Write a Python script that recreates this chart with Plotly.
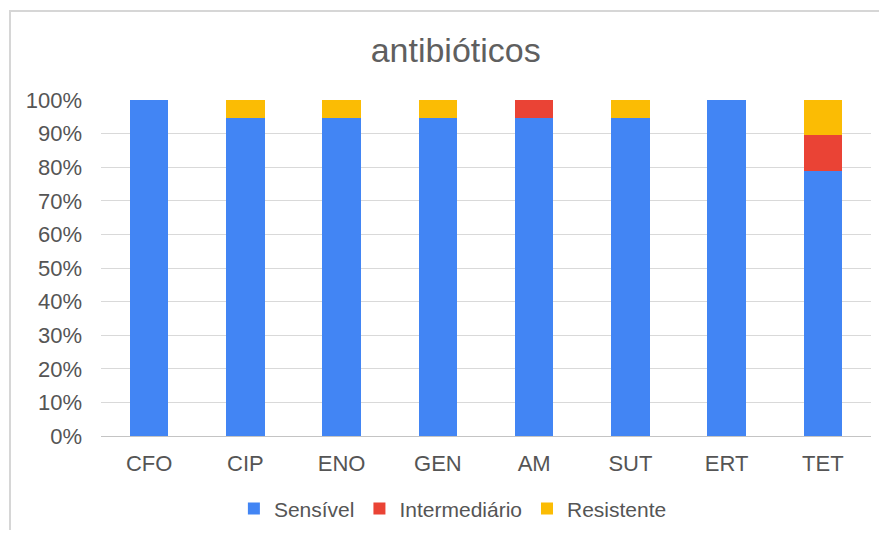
import plotly.graph_objects as go

categories = ["CFO", "CIP", "ENO", "GEN", "AM", "SUT", "ERT", "TET"]
sensivel = [100.0, 94.7, 94.7, 94.7, 94.7, 94.7, 100.0, 78.9]
intermediario = [0.0, 0.0, 0.0, 0.0, 5.3, 0.0, 0.0, 10.55]
resistente = [0.0, 5.3, 5.3, 5.3, 0.0, 5.3, 0.0, 10.55]
y_ticks = [0, 10, 20, 30, 40, 50, 60, 70, 80, 90, 100]
y_tick_labels = [f"{v}%" for v in y_ticks]

font = "Liberation Sans, Arial, sans-serif"
txt = "#555555"
fig = go.Figure()
for name, vals, col in [("Sensível", sensivel, "#4285F4"),
                        ("Intermediário", intermediario, "#EA4335"),
                        ("Resistente", resistente, "#FBBC04")]:
    fig.add_trace(go.Bar(x=categories, y=vals, name=name, marker_color=col,
                         marker_line_width=0))

L, T, PW, PH = 93, 92, 770, 336
W, H = 871, 522
fig.update_layout(
    width=W, height=H,
    barmode="stack", bargap=0.6,
    plot_bgcolor="white", paper_bgcolor="white",
    margin=dict(l=L, r=W - L - PW, t=T, b=H - T - PH, autoexpand=False),
    title=dict(text="antibióticos", x=0.514, xanchor="center", y=1 - 42 / H, yanchor="middle",
               yref="container", font=dict(family=font, size=34, color="#5f5f5f")),
    font=dict(family=font, color=txt),
    xaxis=dict(tickfont=dict(size=22, color=txt), showgrid=False, showline=False,
               ticks="", ticklabelstandoff=12),
    yaxis=dict(range=[0, 100], tickvals=y_ticks, ticktext=y_tick_labels,
               tickfont=dict(size=22, color=txt), showgrid=True, gridcolor="#d9d9d9",
               gridwidth=1, zeroline=True, zerolinecolor="#c4c4c4", zerolinewidth=1,
               ticks="", ticklabelstandoff=18),
    legend=dict(orientation="h", x=0.457, xanchor="center", y=-0.217, yanchor="middle",
                font=dict(size=21, color=txt), traceorder="normal", itemwidth=30),
    showlegend=True,
    shapes=[dict(type="rect", xref="paper", yref="paper",
                 x0=(2 - L) / PW, x1=(900 - L) / PW,
                 y0=(PH + T - 560) / PH, y1=(PH + T - 3) / PH,
                 line=dict(color="#d6d6d6", width=2), layer="below")],
)
fig.write_html("out.html")
